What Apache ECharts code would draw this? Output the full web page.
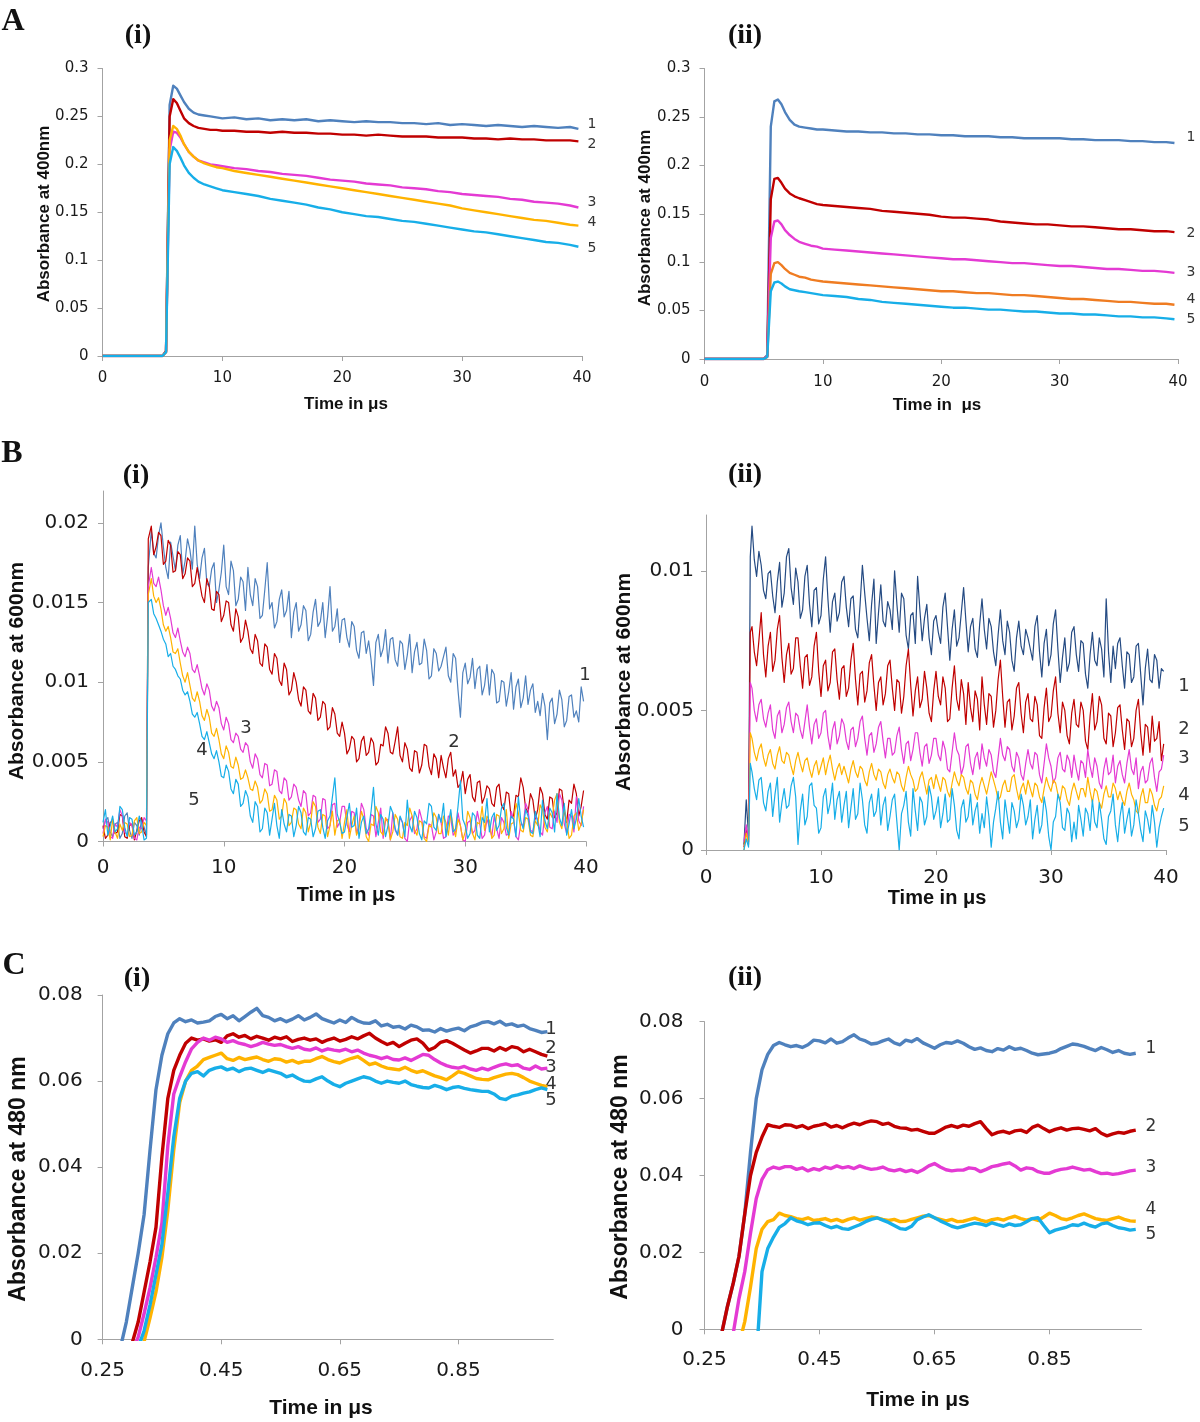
<!DOCTYPE html>
<html><head><meta charset="utf-8">
<script src="https://cdn.jsdelivr.net/npm/echarts@6/dist/echarts.min.js"></script>
<style>html,body{margin:0;padding:0;background:#fff}#c{width:1200px;height:1422px}</style>
</head><body><div id="c"></div>
<script>
// ---------- DATA ----------
const lineNames = ['1','2','3','4','5'];
const tickA_x = [0,10,20,30,40];
const tickA_y = [0,0.05,0.1,0.15,0.2,0.25,0.3];
const tickB_x = [0,10,20,30,40];
const tickB1_y = [0,0.005,0.01,0.015,0.02];
const tickB2_y = [0,0.005,0.01];
const tickC_x = [0.25,0.45,0.65,0.85];
const tickC_y = [0,0.02,0.04,0.06,0.08];

// Panel A: time (us)
const xA = [0,1,2,3,4,5,5.3,5.6,5.9,6.2,6.5,6.8,7.2,7.6,8,8.5,9,9.5,10,11,12,13,14,15,16,17,18,19,20,21,22,23,24,25,26,27,28,29,30,31,32,33,34,35,36,37,38,39,39.7];
const a1_1 = [0,0,0,0,0,0,.005,.262,.282,.279,.272,.265,.258,.254,.252,.251,.250,.249,.248,.249,.247,.248,.246,.247,.246,.247,.245,.246,.245,.244,.245,.244,.244,.243,.243,.242,.243,.241,.242,.241,.240,.241,.240,.239,.240,.239,.238,.239,.237];
const a1_2 = [0,0,0,0,0,0,.005,.250,.268,.264,.256,.248,.243,.240,.238,.237,.236,.236,.235,.235,.234,.234,.233,.234,.233,.233,.232,.232,.231,.231,.230,.231,.230,.229,.229,.229,.228,.228,.228,.227,.227,.226,.227,.226,.226,.225,.225,.225,.224];
const a1_3 = [0,0,0,0,0,0,.004,.215,.234,.233,.228,.221,.213,.208,.204,.202,.200,.199,.198,.196,.195,.193,.192,.190,.189,.188,.186,.184,.183,.182,.180,.179,.178,.176,.175,.174,.172,.171,.169,.168,.167,.166,.164,.163,.161,.160,.159,.157,.155];
const a1_4 = [0,0,0,0,0,0,.004,.225,.240,.237,.230,.221,.213,.208,.204,.201,.199,.197,.196,.193,.191,.189,.187,.185,.183,.181,.179,.177,.175,.173,.171,.169,.167,.165,.163,.161,.159,.157,.154,.152,.150,.148,.146,.144,.142,.141,.139,.137,.136];
const a1_5 = [0,0,0,0,0,0,.004,.200,.218,.214,.207,.199,.191,.186,.182,.179,.177,.175,.173,.171,.169,.167,.164,.162,.160,.158,.155,.153,.150,.148,.146,.145,.143,.141,.140,.138,.136,.134,.132,.130,.129,.127,.125,.123,.121,.119,.118,.116,.114];

const a2_1 = [0,0,0,0,0,0,.004,.240,.266,.268,.263,.255,.247,.242,.240,.239,.238,.237,.237,.236,.235,.235,.234,.234,.233,.233,.232,.232,.231,.231,.230,.230,.230,.229,.229,.228,.228,.228,.228,.227,.227,.226,.226,.226,.225,.225,.224,.224,.223];
const a2_2 = [0,0,0,0,0,0,.003,.165,.186,.187,.182,.176,.171,.168,.166,.164,.162,.160,.159,.158,.157,.156,.155,.153,.152,.151,.150,.149,.147,.146,.146,.145,.144,.142,.141,.140,.139,.139,.138,.137,.137,.136,.135,.134,.134,.133,.132,.132,.131];
const a2_3 = [0,0,0,0,0,0,.003,.125,.142,.143,.139,.133,.128,.124,.121,.119,.117,.116,.114,.113,.112,.111,.110,.109,.108,.107,.106,.105,.104,.103,.103,.102,.101,.100,.099,.099,.098,.097,.096,.096,.095,.094,.093,.093,.092,.091,.091,.090,.089];
const a2_4 = [0,0,0,0,0,0,.002,.088,.099,.100,.097,.093,.089,.087,.085,.084,.082,.081,.080,.079,.078,.077,.076,.075,.074,.073,.072,.071,.070,.070,.069,.068,.068,.067,.066,.066,.065,.064,.063,.062,.062,.061,.060,.059,.059,.058,.057,.057,.056];
const a2_5 = [0,0,0,0,0,0,.002,.070,.079,.080,.078,.075,.072,.071,.070,.069,.068,.067,.066,.065,.064,.062,.061,.059,.058,.057,.056,.055,.054,.053,.053,.052,.051,.051,.050,.049,.049,.048,.047,.047,.046,.046,.045,.044,.044,.043,.043,.042,.041];

// Panel B: time (us)
const xBtail = [4,4.2,4.4,4.6,4.8,5,5.2,5.4,5.6,5.8,6,6.2,6.4,6.6,6.8,7,7.2,7.4,7.6,7.8,
8,8.2,8.4,8.6,8.8,9,9.2,9.4,9.6,9.8,10,10.2,10.4,10.6,10.8,11,11.2,11.4,11.6,11.8,
12,12.2,12.4,12.6,12.8,13,13.2,13.4,13.6,13.8,14,14.2,14.4,14.6,14.8,15,15.2,15.4,15.6,15.8,
16,16.2,16.4,16.6,16.8,17,17.2,17.4,17.6,17.8,18,18.2,18.4,18.6,18.8,19,19.2,19.4,19.6,19.8,
20,20.2,20.4,20.6,20.8,21,21.2,21.4,21.6,21.8,22,22.2,22.4,22.6,22.8,23,23.2,23.4,23.6,23.8,
24,24.2,24.4,24.6,24.8,25,25.2,25.4,25.6,25.8,26,26.2,26.4,26.6,26.8,27,27.2,27.4,27.6,27.8,
28,28.2,28.4,28.6,28.8,29,29.2,29.4,29.6,29.8,30,30.2,30.4,30.6,30.8,31,31.2,31.4,31.6,31.8,
32,32.2,32.4,32.6,32.8,33,33.2,33.4,33.6,33.8,34,34.2,34.4,34.6,34.8,35,35.2,35.4,35.6,35.8,
36,36.2,36.4,36.6,36.8,37,37.2,37.4,37.6,37.8,38,38.2,38.4,38.6,38.8,39,39.2,39.4,39.6,39.8];
const xB1head = [0,.2,.4,.6,.8,1,1.2,1.4,1.6,1.8,2,2.2,2.4,2.6,2.8,3,3.2,3.4,3.6,3.75];
const xB2head = [3.3,3.5,3.7,3.85];

const b1_1 = [.0008,.0013,.0015,.0006,.0003,.0011,.0012,.0002,.0005,.0016,.0018,.0007,.0002,.0012,.0010,.0004,.0014,.0009,.0004,.0172,
.0195,.0181,.0178,.0192,.0200,.0185,.0172,.0165,.0188,.0179,.0170,.0186,.0192,.0168,.0176,.0190,.0183,.0171,.0198,.0174,
.0165,.0178,.0184,.0162,.0160,.0171,.0175,.0150,.0158,.0169,.0186,.0160,.0155,.0176,.0170,.0148,.0152,.0166,.0163,.0145,
.0172,.0155,.0148,.0165,.0160,.0140,.0142,.0158,.0175,.0146,.0150,.0134,.0138,.0152,.0158,.0141,.0145,.0157,.0128,.0144,
.0150,.0132,.0136,.0148,.0145,.0126,.0130,.0144,.0152,.0135,.0138,.0150,.0128,.0141,.0160,.0132,.0135,.0146,.0125,.0139,
.0140,.0128,.0122,.0138,.0135,.0120,.0115,.0131,.0132,.0118,.0126,.0114,.0098,.0125,.0130,.0116,.0121,.0133,.0112,.0127,
.0128,.0114,.0110,.0126,.0124,.0108,.0117,.0130,.0106,.0119,.0125,.0111,.0112,.0127,.0120,.0102,.0104,.0121,.0118,.0107,
.0110,.0116,.0122,.0104,.0100,.0118,.0115,.0095,.0078,.0106,.0112,.0099,.0103,.0115,.0096,.0108,.0110,.0092,.0098,.0111,
.0092,.0108,.0105,.0087,.0088,.0101,.0100,.0085,.0094,.0106,.0083,.0097,.0102,.0084,.0090,.0104,.0086,.0095,.0099,.0081,
.0088,.0079,.0093,.0085,.0064,.0087,.0090,.0074,.0080,.0095,.0089,.0072,.0076,.0091,.0092,.0078,.0082,.0075,.0097,.0088];
const b1_2 = [.0010,.0002,.0004,.0012,.0013,.0005,.0006,.0017,.0016,.0003,.0002,.0010,.0011,.0001,.0007,.0013,.0015,.0006,.0003,.0190,
.0198,.0180,.0185,.0194,.0192,.0174,.0176,.0189,.0186,.0169,.0170,.0182,.0180,.0165,.0168,.0178,.0176,.0160,.0162,.0172,
.0163,.0154,.0150,.0165,.0160,.0146,.0145,.0157,.0155,.0138,.0142,.0151,.0150,.0136,.0132,.0146,.0141,.0125,.0128,.0139,
.0132,.0121,.0118,.0130,.0126,.0112,.0110,.0124,.0122,.0108,.0105,.0118,.0115,.0101,.0098,.0112,.0108,.0092,.0095,.0106,
.0100,.0089,.0085,.0097,.0095,.0082,.0080,.0093,.0090,.0076,.0078,.0088,.0086,.0070,.0072,.0084,.0080,.0068,.0066,.0075,
.0068,.0055,.0058,.0066,.0064,.0050,.0052,.0063,.0066,.0054,.0056,.0065,.0062,.0048,.0050,.0061,.0060,.0072,.0068,.0056,
.0055,.0063,.0072,.0054,.0050,.0062,.0058,.0046,.0044,.0057,.0056,.0043,.0048,.0061,.0060,.0047,.0042,.0055,.0052,.0040,
.0054,.0046,.0040,.0052,.0056,.0041,.0045,.0034,.0036,.0044,.0030,.0039,.0042,.0028,.0025,.0037,.0038,.0024,.0028,.0035,
.0033,.0024,.0022,.0034,.0036,.0023,.0020,.0031,.0030,.0015,.0016,.0029,.0028,.0040,.0034,.0021,.0018,.0030,.0026,.0014,
.0020,.0034,.0030,.0017,.0014,.0028,.0027,.0015,.0018,.0033,.0032,.0019,.0012,.0026,.0024,.0036,.0030,.0016,.0022,.0032];
const b1_3 = [.0005,.0014,.0012,.0003,.0002,.0011,.0009,.0020,.0016,.0006,.0004,.0012,.0010,.0002,.0001,.0009,.0008,.0015,.0013,.0160,
.0172,.0162,.0160,.0166,.0158,.0148,.0142,.0147,.0140,.0131,.0128,.0134,.0126,.0119,.0116,.0122,.0118,.0108,.0106,.0111,
.0104,.0096,.0092,.0099,.0095,.0085,.0082,.0088,.0084,.0074,.0070,.0078,.0074,.0064,.0062,.0068,.0066,.0058,.0056,.0062,
.0060,.0050,.0046,.0055,.0052,.0042,.0040,.0049,.0048,.0035,.0036,.0045,.0044,.0032,.0030,.0040,.0038,.0026,.0028,.0036,
.0034,.0026,.0022,.0032,.0030,.0016,.0018,.0029,.0028,.0012,.0014,.0027,.0026,.0008,.0010,.0023,.0024,.0009,.0012,.0022,
.0022,.0011,.0006,.0019,.0018,.0005,.0010,.0024,.0020,.0008,.0004,.0017,.0016,.0003,.0012,.0021,.0002,.0013,.0014,.0001,
.0018,.0007,.0004,.0015,.0012,.0002,.0000,.0013,.0016,.0005,.0008,.0020,.0014,.0003,.0002,.0011,.0010,.0001,.0006,.0017,
.0012,.0002,.0003,.0016,.0015,.0004,.0006,.0018,.0010,.0001,.0000,.0012,.0013,.0005,.0007,.0019,.0011,.0002,.0004,.0014,
.0009,.0003,.0016,.0008,.0002,.0015,.0012,.0004,.0005,.0019,.0014,.0003,.0001,.0011,.0010,.0024,.0020,.0007,.0006,.0016,
.0014,.0006,.0004,.0018,.0022,.0009,.0008,.0019,.0012,.0030,.0026,.0011,.0005,.0017,.0016,.0006,.0028,.0013,.0010,.0022];
const b1_4 = [.0003,.0010,.0009,.0001,.0014,.0006,.0002,.0011,.0007,.0012,.0011,.0003,.0004,.0013,.0015,.0005,.0006,.0012,.0010,.0155,
.0165,.0154,.0150,.0153,.0146,.0136,.0132,.0135,.0128,.0119,.0118,.0121,.0112,.0104,.0100,.0106,.0098,.0090,.0088,.0094,
.0088,.0079,.0076,.0083,.0078,.0068,.0066,.0071,.0064,.0055,.0052,.0060,.0056,.0047,.0046,.0053,.0048,.0039,.0040,.0045,
.0040,.0033,.0032,.0038,.0034,.0024,.0026,.0033,.0030,.0019,.0020,.0029,.0026,.0014,.0016,.0027,.0024,.0010,.0012,.0021,
.0020,.0011,.0008,.0021,.0018,.0006,.0012,.0025,.0022,.0009,.0005,.0017,.0016,.0003,.0010,.0019,.0004,.0013,.0014,.0002,
.0012,.0020,.0002,.0010,.0016,.0004,.0008,.0019,.0014,.0003,.0000,.0011,.0010,.0022,.0018,.0006,.0004,.0015,.0012,.0001,
.0006,.0017,.0014,.0003,.0002,.0012,.0010,.0021,.0016,.0007,.0004,.0013,.0012,.0002,.0000,.0010,.0009,.0018,.0015,.0005,
.0005,.0016,.0012,.0004,.0018,.0009,.0003,.0014,.0010,.0001,.0006,.0019,.0015,.0005,.0001,.0012,.0011,.0022,.0007,.0016,
.0013,.0002,.0004,.0017,.0016,.0005,.0008,.0020,.0002,.0011,.0012,.0024,.0018,.0007,.0006,.0015,.0014,.0004,.0003,.0013,
.0010,.0023,.0020,.0009,.0006,.0018,.0015,.0026,.0030,.0012,.0008,.0021,.0013,.0002,.0004,.0016,.0018,.0007,.0011,.0020];
const b1_5 = [.0012,.0020,.0004,.0010,.0016,.0006,.0008,.0022,.0020,.0009,.0003,.0015,.0014,.0004,.0006,.0016,.0011,.0001,.0002,.0150,
.0152,.0143,.0140,.0136,.0132,.0127,.0124,.0116,.0118,.0110,.0108,.0104,.0102,.0095,.0092,.0094,.0088,.0080,.0078,.0081,
.0074,.0066,.0064,.0069,.0062,.0055,.0052,.0057,.0050,.0041,.0040,.0048,.0044,.0033,.0030,.0039,.0036,.0022,.0024,.0032,
.0028,.0016,.0012,.0025,.0022,.0006,.0008,.0021,.0018,.0004,.0014,.0024,.0010,.0002,.0020,.0011,.0006,.0017,.0016,.0003,
.0010,.0022,.0018,.0006,.0004,.0015,.0014,.0003,.0008,.0019,.0020,.0009,.0002,.0013,.0016,.0028,.0040,.0017,.0012,.0005,
.0006,.0015,.0024,.0009,.0010,.0021,.0002,.0012,.0016,.0005,.0008,.0019,.0034,.0011,.0004,.0017,.0014,.0003,.0010,.0022,
.0018,.0008,.0004,.0016,.0012,.0003,.0026,.0010,.0006,.0019,.0015,.0005,.0001,.0013,.0011,.0024,.0022,.0009,.0007,.0017,
.0012,.0024,.0003,.0011,.0020,.0006,.0008,.0022,.0038,.0014,.0010,.0002,.0005,.0018,.0016,.0004,.0002,.0015,.0012,.0027,
.0006,.0015,.0018,.0007,.0010,.0021,.0024,.0009,.0004,.0016,.0014,.0003,.0028,.0013,.0008,.0020,.0016,.0006,.0005,.0019,
.0012,.0003,.0026,.0013,.0008,.0021,.0018,.0006,.0030,.0015,.0010,.0024,.0004,.0011,.0020,.0008,.0014,.0027,.0016,.0009];

const b2_1 = [.0002,.0018,.0005,.0105,
.0116,.0104,.0098,.0107,.0102,.0093,.0090,.0099,.0100,.0091,.0085,.0096,.0103,.0087,.0092,.0105,.0108,.0094,.0088,.0101,
.0096,.0083,.0086,.0098,.0102,.0088,.0080,.0093,.0094,.0081,.0084,.0097,.0105,.0090,.0078,.0089,.0092,.0082,.0085,.0096,
.0098,.0087,.0080,.0090,.0091,.0079,.0076,.0088,.0102,.0092,.0083,.0075,.0088,.0097,.0074,.0085,.0095,.0082,.0080,.0089,
.0086,.0079,.0100,.0088,.0078,.0092,.0090,.0077,.0072,.0084,.0085,.0074,.0098,.0086,.0075,.0083,.0088,.0076,.0070,.0082,
.0084,.0078,.0074,.0087,.0092,.0080,.0068,.0079,.0086,.0073,.0076,.0085,.0094,.0082,.0071,.0080,.0083,.0072,.0069,.0081,
.0090,.0079,.0072,.0083,.0080,.0071,.0066,.0077,.0086,.0075,.0070,.0082,.0078,.0068,.0064,.0076,.0082,.0073,.0070,.0079,
.0076,.0072,.0068,.0080,.0084,.0071,.0062,.0074,.0079,.0066,.0070,.0081,.0086,.0072,.0060,.0069,.0076,.0064,.0067,.0078,
.0080,.0070,.0064,.0075,.0074,.0063,.0058,.0070,.0078,.0068,.0066,.0076,.0072,.0062,.0090,.0071,.0060,.0073,.0065,.0074,
.0076,.0066,.0058,.0071,.0070,.0060,.0062,.0073,.0074,.0063,.0052,.0065,.0072,.0061,.0060,.0070,.0068,.0058,.0065,.0064];
const b2_2 = [.0001,.0008,.0003,.0078,
.0080,.0071,.0066,.0075,.0085,.0070,.0062,.0073,.0078,.0064,.0068,.0079,.0084,.0069,.0060,.0070,.0074,.0063,.0065,.0076,
.0076,.0066,.0058,.0069,.0070,.0059,.0062,.0073,.0078,.0064,.0055,.0066,.0068,.0057,.0060,.0071,.0072,.0061,.0054,.0065,
.0066,.0055,.0058,.0068,.0074,.0061,.0052,.0063,.0064,.0053,.0057,.0067,.0070,.0059,.0050,.0060,.0062,.0052,.0056,.0066,
.0068,.0058,.0050,.0061,.0060,.0049,.0055,.0066,.0072,.0059,.0048,.0057,.0062,.0051,.0054,.0064,.0058,.0049,.0046,.0057,
.0064,.0055,.0052,.0062,.0058,.0046,.0047,.0058,.0066,.0054,.0050,.0061,.0056,.0045,.0060,.0051,.0046,.0057,.0054,.0043,
.0062,.0052,.0045,.0056,.0055,.0044,.0050,.0061,.0068,.0055,.0044,.0053,.0054,.0043,.0048,.0058,.0060,.0049,.0042,.0053,
.0056,.0047,.0046,.0055,.0052,.0041,.0040,.0051,.0058,.0046,.0048,.0057,.0062,.0049,.0042,.0053,.0050,.0041,.0038,.0049,
.0054,.0045,.0044,.0053,.0050,.0039,.0036,.0048,.0056,.0043,.0046,.0055,.0052,.0040,.0038,.0049,.0048,.0037,.0042,.0051,
.0052,.0043,.0036,.0047,.0046,.0037,.0040,.0050,.0054,.0042,.0034,.0045,.0044,.0035,.0048,.0039,.0040,.0046,.0032,.0038];
const b2_3 = [.0003,.0009,.0002,.0060,
.0058,.0050,.0046,.0052,.0054,.0047,.0044,.0049,.0052,.0043,.0040,.0048,.0050,.0042,.0045,.0051,.0053,.0046,.0042,.0049,
.0048,.0043,.0040,.0046,.0052,.0044,.0038,.0045,.0047,.0040,.0042,.0049,.0050,.0041,.0036,.0043,.0046,.0038,.0041,.0047,
.0045,.0039,.0036,.0043,.0044,.0037,.0040,.0046,.0048,.0040,.0034,.0041,.0042,.0035,.0038,.0044,.0046,.0039,.0033,.0040,
.0040,.0034,.0035,.0041,.0044,.0036,.0031,.0038,.0039,.0032,.0036,.0042,.0042,.0035,.0030,.0037,.0038,.0031,.0034,.0040,
.0040,.0034,.0032,.0039,.0036,.0029,.0028,.0035,.0042,.0036,.0034,.0027,.0030,.0037,.0038,.0031,.0027,.0033,.0035,.0029,
.0038,.0033,.0030,.0036,.0034,.0028,.0026,.0033,.0040,.0034,.0032,.0037,.0036,.0030,.0028,.0035,.0033,.0027,.0025,.0031,
.0036,.0031,.0029,.0035,.0034,.0027,.0024,.0031,.0038,.0033,.0030,.0024,.0026,.0033,.0035,.0029,.0028,.0034,.0032,.0026,
.0034,.0029,.0025,.0032,.0031,.0026,.0036,.0030,.0026,.0033,.0030,.0024,.0022,.0029,.0033,.0027,.0028,.0034,.0024,.0030,
.0032,.0027,.0024,.0031,.0036,.0029,.0027,.0033,.0022,.0028,.0030,.0024,.0025,.0031,.0033,.0026,.0021,.0028,.0029,.0034];
const b2_4 = [.0000,.0006,.0002,.0042,
.0040,.0035,.0032,.0036,.0038,.0033,.0030,.0034,.0036,.0031,.0029,.0034,.0037,.0032,.0031,.0035,.0034,.0030,.0027,.0032,
.0035,.0031,.0028,.0032,.0033,.0029,.0026,.0030,.0032,.0027,.0030,.0033,.0027,.0031,.0034,.0029,.0025,.0029,.0031,.0027,
.0030,.0027,.0024,.0029,.0032,.0028,.0026,.0030,.0029,.0025,.0023,.0028,.0031,.0027,.0025,.0029,.0028,.0024,.0022,.0027,
.0029,.0026,.0024,.0028,.0027,.0023,.0021,.0026,.0030,.0027,.0025,.0021,.0022,.0026,.0028,.0024,.0020,.0025,.0026,.0022,
.0027,.0024,.0021,.0026,.0025,.0021,.0019,.0024,.0028,.0025,.0023,.0027,.0026,.0022,.0020,.0025,.0024,.0020,.0018,.0023,
.0026,.0023,.0020,.0024,.0028,.0025,.0022,.0018,.0019,.0023,.0025,.0021,.0021,.0026,.0027,.0022,.0018,.0022,.0024,.0020,
.0025,.0022,.0019,.0024,.0023,.0019,.0017,.0022,.0026,.0023,.0021,.0025,.0024,.0020,.0018,.0023,.0022,.0018,.0016,.0021,
.0024,.0021,.0018,.0022,.0022,.0019,.0026,.0021,.0017,.0022,.0021,.0017,.0015,.0020,.0023,.0019,.0019,.0024,.0022,.0018,
.0021,.0018,.0016,.0021,.0024,.0020,.0018,.0014,.0013,.0019,.0022,.0017,.0017,.0022,.0020,.0016,.0014,.0018,.0019,.0023];
const b2_5 = [.0000,.0004,.0001,.0031,
.0028,.0022,.0018,.0025,.0026,.0017,.0014,.0021,.0024,.0012,.0020,.0026,.0010,.0017,.0022,.0015,.0016,.0023,.0026,.0019,
.0002,.0014,.0020,.0009,.0012,.0023,.0024,.0016,.0015,.0006,.0008,.0019,.0022,.0013,.0017,.0024,.0011,.0018,.0021,.0010,
.0016,.0021,.0008,.0015,.0022,.0011,.0013,.0024,.0018,.0009,.0006,.0017,.0020,.0012,.0014,.0022,.0009,.0016,.0019,.0007,
.0012,.0018,.0020,.0010,.0000,.0013,.0016,.0021,.0010,.0005,.0022,.0014,.0007,.0019,.0017,.0009,.0012,.0023,.0019,.0011,
.0014,.0019,.0008,.0013,.0020,.0010,.0011,.0022,.0016,.0007,.0004,.0015,.0018,.0010,.0012,.0020,.0009,.0014,.0017,.0006,
.0013,.0008,.0019,.0012,.0001,.0010,.0015,.0021,.0010,.0004,.0018,.0012,.0006,.0017,.0014,.0008,.0011,.0020,.0016,.0009,
.0012,.0018,.0004,.0011,.0016,.0006,.0009,.0019,.0014,.0005,.0000,.0010,.0012,.0020,.0017,.0008,.0007,.0015,.0013,.0003,
.0010,.0004,.0016,.0011,.0005,.0015,.0013,.0007,.0018,.0010,.0008,.0017,.0011,.0004,.0002,.0012,.0014,.0020,.0009,.0003,
.0012,.0017,.0006,.0011,.0015,.0005,.0009,.0018,.0013,.0007,.0003,.0014,.0011,.0006,.0016,.0010,.0001,.0008,.0012,.0015];

// Panel C: time (us)
const xC = [.28,.29,.30,.31,.32,.33,.34,.35,.36,.37,.38,.39,.40,.41,.42,.43,.44,.45,.46,.47,.48,.49,.50,.51,.52,.53,.54,.55,.56,.57,.58,.59,.60,.61,.62,.63,.64,.65,.66,.67,.68,.69,.70,.71,.72,.73,.74,.75,.76,.77,.78,.79,.80,.81,.82,.83,.84,.85,.86,.87,.88,.89,.90,.91,.92,.93,.94,.95,.96,.97,.98,.99,1];
const c1_1 = [-.002,.004,.012,.020,.029,.044,.058,.066,.071,.0735,
.0745,.0738,.0742,.0735,.0737,.0740,.0750,.0755,.0745,.0752,
.0740,.0750,.0760,.0769,.0752,.0748,.0740,.0745,.0738,.0744,
.0752,.0742,.0748,.0756,.0745,.0740,.0735,.0742,.0736,.0748,
.0740,.0735,.0734,.0740,.0728,.0732,.0725,.0727,.0721,.0730,
.0726,.0718,.0719,.0714,.0722,.0716,.0720,.0723,.0717,.0726,
.0730,.0736,.0738,.0733,.0739,.0730,.0733,.0727,.0730,.0722,
.0718,.0713,.0715];
const c1_2 = [null,null,-.0008,.004,.011,.018,.026,.0424,.056,.0625,
.066,.0688,.0700,.0695,.0698,.0693,.0696,.0690,.0705,.0710,
.0702,.0706,.0698,.0704,.0700,.0695,.0702,.0698,.0703,.0692,
.0697,.0700,.0695,.0698,.0690,.0696,.0700,.0693,.0697,.0703,
.0698,.0705,.0711,.0700,.0692,.0685,.0690,.0680,.0688,.0695,
.0698,.0688,.0672,.0678,.0690,.0694,.0688,.0680,.0672,.0665,
.0670,.0676,.0676,.0670,.0678,.0672,.0680,.0677,.0668,.0674,
.0668,.0662,.0658];
const c1_3 = [null,null,-.003,.0005,.006,.012,.019,.027,.045,.057,
.061,.0645,.0675,.0690,.0700,.0695,.0702,.0698,.0690,.0694,
.0688,.0685,.0680,.0684,.0690,.0686,.0683,.0685,.0680,.0676,
.0680,.0674,.0672,.0677,.0670,.0675,.0672,.0670,.0674,.0668,
.0672,.0665,.0660,.0657,.0652,.0656,.0650,.0649,.0654,.0648,
.0655,.0662,.0660,.0650,.0642,.0636,.0632,.0630,.0634,.0628,
.0625,.0630,.0626,.0632,.0637,.0640,.0636,.0638,.0630,.0627,
.0635,.0628,.0630];
const c1_4 = [null,null,null,null,-.0005,.005,.011,.019,.030,.044,
.055,.060,.0625,.0635,.0650,.0655,.0660,.0665,.0652,.0648,
.0655,.0650,.0653,.0656,.0650,.0646,.0652,.0650,.0644,.0648,
.0642,.0646,.0646,.0652,.0657,.0650,.0645,.0642,.0648,.0653,
.0657,.0648,.0638,.0642,.0635,.0630,.0628,.0626,.0632,.0625,
.0620,.0624,.0618,.0612,.0608,.0603,.0612,.0622,.0618,.0612,
.0606,.0604,.0603,.0608,.0612,.0616,.0618,.0615,.0608,.0600,
.0595,.0590,.0587];
const c1_5 = [null,null,null,-.002,.002,.008,.015,.022,.034,.047,
.056,.060,.0618,.0622,.0612,.0625,.0630,.0633,.0626,.0630,
.0622,.0628,.0630,.0625,.0620,.0626,.0622,.0618,.0610,.0614,
.0606,.0600,.0599,.0605,.0610,.0600,.0592,.0587,.0595,.0600,
.0605,.0610,.0607,.0600,.0595,.0600,.0597,.0595,.0600,.0592,
.0588,.0585,.0584,.0590,.0586,.0580,.0585,.0587,.0583,.0580,
.0578,.0576,.0576,.0570,.0560,.0557,.0565,.0568,.0572,.0575,
.0580,.0584,.0580];

const c2_1 = [-.001,.006,.012,.019,.030,.046,.060,.0675,.0715,.0738,
.0746,.0740,.0735,.0738,.0733,.0740,.0752,.0750,.0745,.0755,
.0744,.0748,.0758,.0766,.0755,.0750,.0742,.0744,.0750,.0755,
.0745,.0740,.0752,.0748,.0756,.0745,.0738,.0731,.0740,.0746,
.0744,.0750,.0744,.0735,.0728,.0732,.0725,.0722,.0730,.0726,
.0735,.0728,.0731,.0725,.0718,.0714,.0716,.0718,.0722,.0730,
.0736,.0742,.0740,.0736,.0730,.0725,.0733,.0727,.0720,.0725,
.0718,.0715,.0718];
const c2_2 = [-.001,.006,.012,.019,.030,.040,.046,.050,.0532,.0528,
.0525,.0532,.0531,.0525,.0530,.0522,.0528,.0531,.0535,.0526,
.0530,.0524,.0531,.0536,.0532,.0538,.0542,.0540,.0533,.0536,
.0528,.0524,.0523,.0518,.0520,.0515,.0510,.0510,.0518,.0526,
.0530,.0525,.0531,.0528,.0535,.0540,.0522,.0506,.0512,.0515,
.0510,.0516,.0518,.0512,.0525,.0531,.0522,.0514,.0520,.0524,
.0518,.0522,.0523,.0520,.0516,.0522,.0510,.0503,.0508,.0512,
.0510,.0515,.0518];
const c2_3 = [null,null,-.001,.008,.015,.025,.034,.039,.0415,.0422,
.0418,.0423,.0423,.0416,.0420,.0412,.0418,.0414,.0422,.0418,
.0425,.0420,.0423,.0418,.0425,.0420,.0416,.0418,.0422,.0415,
.0412,.0416,.0410,.0414,.0408,.0415,.0425,.0431,.0422,.0415,
.0412,.0414,.0414,.0420,.0418,.0410,.0416,.0423,.0426,.0430,
.0433,.0425,.0414,.0420,.0418,.0410,.0406,.0406,.0412,.0416,
.0418,.0422,.0418,.0414,.0416,.0410,.0405,.0406,.0403,.0405,
.0408,.0412,.0414];
const c2_4 = [null,null,null,-.004,.002,.011,.021,.026,.028,.0285,
.0302,.0296,.0293,.0288,.0285,.0290,.0283,.0285,.0288,.0282,
.0286,.0280,.0286,.0290,.0284,.0288,.0292,.0290,.0286,.0283,
.0286,.0280,.0281,.0286,.0290,.0294,.0296,.0290,.0286,.0282,
.0286,.0280,.0281,.0285,.0289,.0284,.0280,.0285,.0288,.0284,
.0290,.0294,.0288,.0284,.0288,.0283,.0292,.0302,.0296,.0288,
.0285,.0290,.0296,.0300,.0294,.0288,.0285,.0283,.0288,.0292,
.0286,.0282,.0281];
const c2_5 = [null,null,null,null,null,null,-.008,.015,.021,.024,
.0265,.0275,.0290,.0282,.0278,.0272,.0276,.0277,.0270,.0264,
.0268,.0262,.0260,.0266,.0272,.0280,.0286,.0290,.0284,.0278,
.0270,.0262,.0260,.0268,.0285,.0292,.0298,.0290,.0282,.0275,
.0268,.0264,.0268,.0272,.0276,.0274,.0270,.0277,.0272,.0268,
.0274,.0270,.0272,.0280,.0288,.0290,.0270,.0251,.0258,.0262,
.0266,.0272,.0270,.0276,.0270,.0266,.0274,.0277,.0270,.0264,
.0262,.0258,.0260];

// ---------- STYLE / LAYOUT ----------
const colStd = ['#4F81BD','#C00000','#E43AD3','#FFB300','#17AEE8'];
const colA2 = ['#4F81BD','#C00000','#E43AD3','#EF7C22','#17AEE8'];
const colB2 = ['#254B83','#C00000','#E43AD3','#FFB300','#17AEE8'];

const panels = [
  {grid:{left:102.5,top:68.5,width:479.5,height:287.5}, xr:[0,40], yr:[0,0.3], xt:tickA_x, yt:tickA_y, fs:15, xm:15, ym:14,
   xs:[xA,xA,xA,xA,xA], ys:[a1_1,a1_2,a1_3,a1_4,a1_5], cols:colStd, lw:2.4},
  {grid:{left:704.5,top:68.5,width:473.5,height:290.5}, xr:[0,40], yr:[0,0.3], xt:tickA_x, yt:tickA_y, fs:15, xm:16, ym:14,
   xs:[xA,xA,xA,xA,xA], ys:[a2_1,a2_2,a2_3,a2_4,a2_5], cols:colA2, lw:2.4},
  {grid:{left:103,top:491,width:483,height:350.5}, xr:[0,40], yr:[0,0.022], xt:tickB_x, yt:tickB1_y, fs:20, xm:16, ym:14,
   xs:null, ys:[b1_1,b1_2,b1_3,b1_4,b1_5], cols:colStd, lw:1.2, head:xB1head},
  {grid:{left:706,top:515,width:460,height:335}, xr:[0,40], yr:[0,0.012], xt:tickB_x, yt:tickB2_y, fs:20, xm:18, ym:12,
   xs:null, ys:[b2_1,b2_2,b2_3,b2_4,b2_5], cols:colB2, lw:1.2, head:xB2head},
  {grid:{left:102.6,top:995,width:450.7,height:344.3}, xr:[0.25,1.01], yr:[0,0.08], xt:tickC_x, yt:tickC_y, fs:20, xm:21, ym:20,
   xs:[xC,xC,xC,xC,xC], ys:[c1_1,c1_2,c1_3,c1_4,c1_5], cols:colStd, lw:3.4},
  {grid:{left:704.5,top:1021.7,width:437,height:307.6}, xr:[0.25,1.01], yr:[0,0.08], xt:tickC_x, yt:tickC_y, fs:20, xm:20, ym:21,
   xs:[xC,xC,xC,xC,xC], ys:[c2_1,c2_2,c2_3,c2_4,c2_5], cols:colStd, lw:3.4}
];

const axisLine = {color:'#a3a3a3', width:1};
function axisCfg(gi, range, ticks, fs, margin, pos){
  return {type:'value', gridIndex:gi, position:pos, min:range[0], max:range[1],
    axisLine:{show:true, onZero:false, lineStyle:axisLine},
    axisTick:{show:true, length:5, customValues:ticks, lineStyle:axisLine},
    axisLabel:{customValues:ticks, fontFamily:'DejaVu Sans', fontSize:fs, color:'#1a1a1a', margin:margin,
      formatter:function(v){return String(v);}},
    splitLine:{show:false}};
}
function pairs(xs, ys){
  const n = Math.min(xs.length, ys.length), out = [];
  for (let i = 0; i < n; i++) out.push([xs[i], ys[i]]);
  return out;
}

const grids=[], xAxes=[], yAxes=[], series=[];
panels.forEach(function(p, gi){
  grids.push(Object.assign({containLabel:false, outerBoundsMode:'none'}, p.grid));
  xAxes.push(axisCfg(gi, p.xr, p.xt, p.fs, p.xm, 'bottom'));
  yAxes.push(axisCfg(gi, p.yr, p.yt, p.fs, p.ym, 'left'));
  p.ys.forEach(function(ys, si){
    const xs = p.xs ? p.xs[si] : p.head.concat(xBtail);
    series.push({type:'line', name:lineNames[si], xAxisIndex:gi, yAxisIndex:gi, data:pairs(xs, ys),
      showSymbol:false, symbol:'none', clip:true, silent:true, animation:false,
      lineStyle:{color:p.cols[si], width:p.lw, join:'round'}, itemStyle:{color:p.cols[si]}, z:2+si});
  });
});

function txt(x, y, s, font, rot){
  return {type:'text', x:x, y:y, rotation:rot||0, silent:true,
    style:{text:s, font:font, fill:'#111', align:'center', verticalAlign:'middle', textAlign:'center', textVerticalAlign:'middle'}};
}
const serifBig = 'bold 32px "Liberation Serif"';
const serifSub = 'bold 28px "Liberation Serif"';
const R = Math.PI/2;
const g = [
  txt(13,22,'A',serifBig), txt(12,454,'B',serifBig), txt(14,966,'C',serifBig),
  txt(138,36,'(i)',serifSub), txt(745,36,'(ii)',serifSub),
  txt(136,476,'(i)',serifSub), txt(745,475,'(ii)',serifSub),
  txt(137,979,'(i)',serifSub), txt(745,978,'(ii)',serifSub),
  txt(44,214,'Absorbance at 400nm','bold 17px "Liberation Sans"',R),
  txt(346,404,'Time in μs','bold 17px "Liberation Sans"'),
  txt(645,218,'Absorbance at 400nm','bold 17px "Liberation Sans"',R),
  txt(937,405,'Time in  μs','bold 17px "Liberation Sans"'),
  txt(17,671,'Absorbance at 600nm','bold 21px "Liberation Sans"',R),
  txt(346,895,'Time in μs','bold 20px "Liberation Sans"'),
  txt(624,682,'Absorbance at 600nm','bold 21px "Liberation Sans"',R),
  txt(937,898,'Time in μs','bold 20px "Liberation Sans"'),
  txt(19,1179,'Absorbance at 480 nm','bold 23px "Liberation Sans"',R),
  txt(321,1408,'Time in μs','bold 21px "Liberation Sans"'),
  txt(621,1177,'Absorbance at 480 nm','bold 23px "Liberation Sans"',R),
  txt(918,1400,'Time in μs','bold 21px "Liberation Sans"')
];
const numPos = [
  {f:'14px "DejaVu Sans"', p:[[592,124],[592,144],[592,202],[592,222],[592,248]]},
  {f:'14px "DejaVu Sans"', p:[[1191,137],[1191,233],[1191,272],[1191,299],[1191,319]]},
  {f:'18px "DejaVu Sans"', p:[[585,675],[454,742],[246,728],[202,750],[194,800]]},
  {f:'18px "DejaVu Sans"', p:[[1184,686],[1184,729],[1184,758],[1184,795],[1184,826]]},
  {f:'18px "DejaVu Sans"', p:[[551,1029],[551,1048],[551,1067],[551,1084],[551,1100]]},
  {f:'17px "DejaVu Sans"', p:[[1151,1049],[1151,1127],[1151,1168],[1151,1210],[1151,1235]]}
];
numPos.forEach(function(n){ n.p.forEach(function(q, i){ const t = txt(q[0], q[1], lineNames[i], n.f); t.style.fill = '#333'; g.push(t); }); });

const chart = echarts.init(document.getElementById('c'), null, {renderer:'canvas'});
chart.setOption({animation:false, backgroundColor:'#fff', grid:grids, xAxis:xAxes, yAxis:yAxes, series:series, graphic:{elements:g}});
</script>
</body></html>
